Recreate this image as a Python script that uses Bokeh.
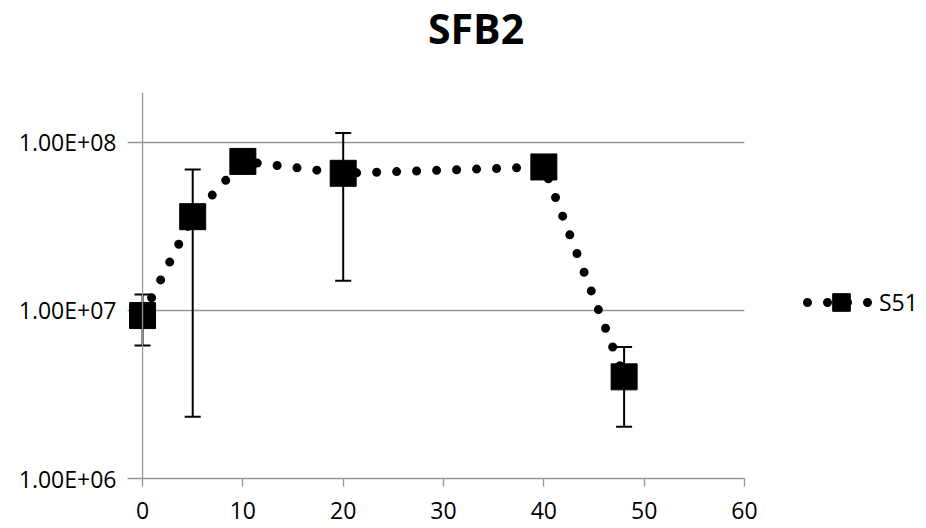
from bokeh.plotting import figure
from bokeh.layouts import column, row
from bokeh.models import (Range1d, FixedTicker, CustomJSTickFormatter, Whisker, TeeHead,
                          ColumnDataSource, Legend, LegendItem, Span, Div)
from bokeh.embed import file_html
from bokeh.resources import INLINE

# ---- data ----
x_vals = [0, 5, 10, 20, 40, 48]
s51 = [9.3e6, 3.6e7, 7.67e7, 6.52e7, 7.11e7, 4.02e6]
err_low = [6.17e6, 2.33e6, 7.67e7, 1.5e7, 7.11e7, 2.03e6]
err_high = [1.24e7, 6.86e7, 7.67e7, 1.13e8, 7.11e7, 6.05e6]
x_ticks = [0, 10, 20, 30, 40, 50, 60]
y_ticks = [1e6, 1e7, 1e8]
series_name = "S51"
title_text = "SFB2"

FONT = "Open Sans"
GRAY = "#969696"

src = ColumnDataSource(dict(x=x_vals, y=s51, lo=err_low, hi=err_high))

title_div = Div(
    text=('<div style="font-family:\'Open Sans\';font-weight:bold;font-size:41px;'
          'line-height:normal;padding-left:428px;white-space:nowrap;color:#000;margin:0">'
          + title_text + '</div>'),
    width=926, height=60, margin=0)

p = figure(width=768, height=468, output_backend="svg", toolbar_location=None,
           x_range=Range1d(-1.5, 60), y_range=Range1d(1e6, 1.97e8), y_axis_type="log",
           min_border_left=127, min_border_right=24, min_border_bottom=50, min_border_top=32,
           margin=0)
p.outline_line_color = None
p.background_fill_color = "white"
p.border_fill_color = "white"

# axes
p.xaxis.ticker = FixedTicker(ticks=x_ticks)
p.yaxis.ticker = FixedTicker(ticks=y_ticks, minor_ticks=[])
p.yaxis.formatter = CustomJSTickFormatter(code="""
const e = Math.round(Math.log10(tick));
return "1.00E+" + (e < 10 ? "0" : "") + e;
""")
for ax in (p.xaxis[0], p.yaxis[0]):
    ax.axis_line_color = GRAY
    ax.axis_line_width = 1.3
    ax.major_tick_line_color = GRAY
    ax.major_tick_line_width = 1.3
    ax.major_tick_in = 0
    ax.minor_tick_line_color = None
    ax.major_label_text_font = FONT
    ax.major_label_text_font_size = "23px"
    ax.major_label_text_color = "black"
p.yaxis.axis_line_color = None
p.yaxis.major_tick_line_color = None
p.yaxis.major_tick_out = 0
p.yaxis.major_label_standoff = 11
p.xaxis.major_tick_out = 8
p.xaxis.major_label_standoff = 15

p.xgrid.grid_line_color = None
p.ygrid.grid_line_color = GRAY
p.ygrid.grid_line_width = 1.3

# vertical axis line at x = 0
p.add_layout(Span(location=x_ticks[0], dimension="height", line_color=GRAY, line_width=1.3))

LINE_STYLE = dict(line_color="black", line_width=9, line_dash="0 20", line_cap="round")
MARK_STYLE = dict(marker="square", size=26, fill_color="black", line_color="black")

# series line (dotted)
p.line("x", "y", source=src, **LINE_STYLE)

# error bars
wh = Whisker(base="x", lower="lo", upper="hi", source=src, line_color="black", line_width=2,
             upper_head=TeeHead(size=16, line_width=2, line_color="black"),
             lower_head=TeeHead(size=16, line_width=2, line_color="black"))
p.add_layout(wh)

# markers
p.scatter("x", "y", source=src, **MARK_STYLE)

# legend panel (separate small figure on the right)
lf = figure(width=158, height=468, output_backend="svg", toolbar_location=None,
            x_range=Range1d(1000, 1001), y_range=Range1d(1e6, 1.97e8), y_axis_type="log",
            min_border_left=0, min_border_right=0, min_border_bottom=0, min_border_top=0,
            margin=0)
lf.axis.visible = False
lf.grid.visible = False
lf.outline_line_color = None
lg_line = lf.line("x", "y", source=src, line_dash_offset=16, **LINE_STYLE)
lg_mark = lf.scatter("x", "y", source=src, **MARK_STYLE)
legend = Legend(items=[LegendItem(label=series_name, renderers=[lg_line, lg_mark])],
                location=(35, 154), border_line_color=None, background_fill_alpha=0,
                glyph_width=76, glyph_height=44, label_standoff=0, padding=0, margin=0,
                spacing=0, label_text_font=FONT, label_text_font_size="23px",
                label_text_color="black")
lf.add_layout(legend, "center")

layout = column(title_div, row(p, lf, spacing=0), spacing=0)
open("out.html", "w").write(file_html(layout, INLINE))
